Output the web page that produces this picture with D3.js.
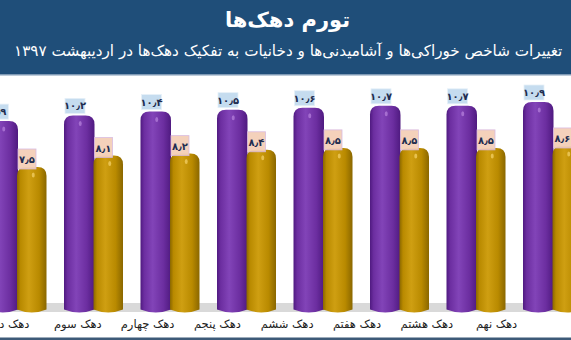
<!DOCTYPE html>
<html><head><meta charset="utf-8">
<script src="https://cdn.jsdelivr.net/npm/d3@7"></script>
<style>html,body{margin:0;padding:0;background:#fff;overflow:hidden}svg{display:block}</style>
</head><body>
<script>
const titleText = "تورم دهک‌ها";
const subtitleText = "تغییرات شاخص خوراکی‌ها و آشامیدنی‌ها و دخانیات به تفکیک دهک‌ها در اردیبهشت ۱۳۹۷";
const categories = ["دهک دوم","دهک سوم","دهک چهارم","دهک پنجم","دهک ششم","دهک هفتم","دهک هشتم","دهک نهم"];
const seriesNames = ["a","b"];
const seriesA = [9.9,10.2,10.4,10.5,10.6,10.7,10.7,10.9];
const seriesB = [7.5,8.1,8.2,8.4,8.5,8.5,8.5,8.6];

const W = 571, H = 340;
const FONT = "'DejaVu Sans', 'Noto Sans', sans-serif";
const svg = d3.select("body").append("svg").attr("width", W).attr("height", H);
const defs = svg.append("defs");
function cyl(id, dark, mid, light){
  const g = defs.append("linearGradient").attr("id", id).attr("x1","0").attr("x2","1").attr("y1","0").attr("y2","0");
  [[0,dark],[0.12,mid],[0.4,light],[0.75,mid],[1,dark]].forEach(([o,c])=>g.append("stop").attr("offset",o).attr("stop-color",c));
}
cyl("gA","#4f1a80","#6c2ea0","#8244b8");
cyl("gB","#8a6700","#b98a00","#cf9f12");

// header
svg.append("rect").attr("x",0).attr("y",0).attr("width",W).attr("height",74).attr("fill","#1f4e79");
svg.append("rect").attr("x",0).attr("y",74).attr("width",W).attr("height",1.5).attr("fill","#7f9ab5");
svg.append("text").attr("x",W/2+2).attr("y",27).attr("text-anchor","middle")
  .attr("font-family",FONT).attr("font-size",21).attr("font-weight","bold").attr("fill","#fff")
  .attr("direction","rtl").text(titleText);
const sub = svg.append("text").attr("x",0).attr("y",56).attr("font-family",FONT)
  .attr("font-size",14).attr("fill","#fff").attr("direction","rtl").attr("text-anchor","middle").text(subtitleText);
{
  let bb = sub.node().getBBox();
  const fs = 14 * 549 / bb.width;
  sub.attr("font-size", fs);
  bb = sub.node().getBBox();
  sub.attr("x", 14 - bb.x);
}

// floor
svg.append("rect").attr("x",0).attr("y",303).attr("width",W).attr("height",9).attr("fill","#d9d9d9");

const x = d3.scaleBand().domain(categories).range([-12.5, -12.5 + 76.5*categories.length]).padding(0);
const x1 = d3.scaleBand().domain(seriesNames).range([0, 59]).padding(0);
const y = d3.scaleLinear().domain([0, 12]).range([310.4, 310.4 - 12*19.12]);
const xl = d3.scaleBand().domain(categories).range([-26.9, -26.9 + 69.8*categories.length]).padding(0);

const toFa = v => d3.format(".1f")(v).replace(/\d/g, d => "۰۱۲۳۴۵۶۷۸۹"[d]).replace(".", "٫");

function barPath(x0, w, top, bottom){
  const r = Math.min(9, w/2);
  return `M${x0},${bottom-3} L${x0},${top+r} Q${x0},${top} ${x0+r},${top} L${x0+w-r},${top} Q${x0+w},${top} ${x0+w},${top+r} L${x0+w},${bottom-3} Q${x0+w/2},${bottom+3} ${x0},${bottom-3} Z`;
}

const data = categories.map((c,i)=>({c, a: seriesA[i], b: seriesB[i]}));
const groups = svg.selectAll("g.grp").data(data).join("g").attr("class","grp");

// series A bars
groups.append("path")
  .attr("d", d => barPath(x(d.c)+x1("a"), x1.bandwidth()+1, y(d.a), y(0)+2))
  .attr("fill","url(#gA)");
groups.append("ellipse")
  .attr("cx", d => x(d.c)+x1("a")+x1.bandwidth()*0.55).attr("cy", d => y(d.a)+8)
  .attr("rx",1.5).attr("ry",2.5).attr("fill","#b07ad8").attr("opacity",0.8);
// series B bars
groups.append("path")
  .attr("d", d => barPath(x(d.c)+x1("b"), x1.bandwidth(), y(d.b), y(0)+2))
  .attr("fill","url(#gB)");
groups.append("ellipse")
  .attr("cx", d => x(d.c)+x1("b")+x1.bandwidth()*0.55).attr("cy", d => y(d.b)+8)
  .attr("rx",1.5).attr("ry",2.5).attr("fill","#f0cc60").attr("opacity",0.8);

// labels A
groups.append("rect")
  .attr("x", d => x(d.c)+x1("a")+1).attr("y", d => y(d.a)-17)
  .attr("width",20).attr("height",15).attr("fill","#c5dcef").attr("stroke","#e6f0f8").attr("stroke-width",0.8);
groups.append("text")
  .attr("x", d => x(d.c)+x1("a")+11).attr("y", d => y(d.a)-6)
  .attr("text-anchor","middle").attr("font-family",FONT).attr("font-size",10).attr("font-weight","bold")
  .attr("fill","#1f2d50").text(d => toFa(d.a));
// labels B
groups.append("rect")
  .attr("x", d => x(d.c)+x1("b")+1).attr("y", d => y(d.b)-18)
  .attr("width",18).attr("height",20).attr("fill","#f4cfb8").attr("opacity",0.95).attr("stroke","#d8b8e0").attr("stroke-width",0.8);
groups.append("text")
  .attr("x", d => x(d.c)+x1("b")+10).attr("y", d => y(d.b)-4)
  .attr("text-anchor","middle").attr("font-family",FONT).attr("font-size",10).attr("font-weight","bold")
  .attr("fill","#1f2d50").text(d => toFa(d.b));

// category labels
svg.selectAll("text.cat").data(categories).join("text").attr("class","cat")
  .attr("x", d => xl(d) + xl.bandwidth()/2).attr("y", 328)
  .attr("text-anchor","middle").attr("direction","rtl")
  .attr("font-family",FONT).attr("font-size",11.5).attr("fill","#222").text(d => d);

// bottom line
svg.append("rect").attr("x",0).attr("y",337.5).attr("width",W).attr("height",2.5).attr("fill","#3d5a78");
</script>
</body></html>
